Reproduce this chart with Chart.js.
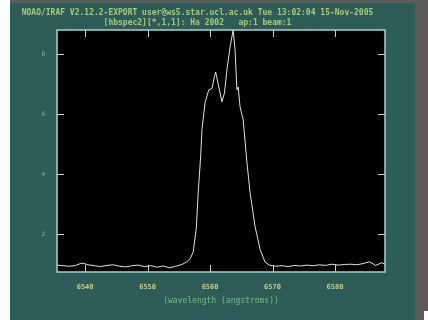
<!DOCTYPE html>
<html>
<head>
<meta charset="utf-8">
<script src="https://cdn.jsdelivr.net/npm/chart.js@4/dist/chart.umd.min.js"></script>
<style>
  html, body { margin: 0; padding: 0; background: #2e5d59; }
  #plot { display: block; }
</style>
</head>
<body>
<canvas id="plot" width="428" height="320"></canvas>
<script>
const titleLines = [
  'NOAO/IRAF V2.12.2-EXPORT user@ws5.star.ucl.ac.uk Tue 13:02:04 15-Nov-2005',
  '[hbspec2][*,1,1]: Ha 2002   ap:1 beam:1',
];
const xAxisTitle = '(wavelength (angstroms))';

const wavelength = [
  6535.5, 6536.5, 6537.5, 6538.5, 6539.5, 6540.5, 6541.5, 6542.5, 6543.5, 6544.5,
  6545.5, 6546.5, 6547.5, 6548.5, 6549.5, 6550.5, 6551.5, 6552.5, 6553.5, 6554.5,
  6555.5, 6556.3, 6556.8, 6557.3, 6557.8, 6558.1, 6558.5, 6558.7, 6559.2, 6559.8,
  6560.3, 6560.7, 6560.9, 6561.2, 6561.9, 6562.3, 6562.7, 6563.2, 6563.7, 6564.0,
  6564.3, 6564.5, 6564.8, 6565.3, 6565.9, 6566.4, 6567.2, 6568.0, 6568.8, 6569.5,
  6570.5, 6571.5, 6572.5, 6573.5, 6574.5, 6575.5, 6576.5, 6577.5, 6578.5, 6579.5,
  6580.5, 6581.5, 6582.5, 6583.5, 6584.5, 6585.5, 6586.5, 6587.5, 6588.0,
];
const flux = [
  0.97, 0.95, 0.93, 0.96, 1.04, 0.98, 0.95, 0.92, 0.96, 0.98,
  0.93, 0.91, 0.95, 0.97, 0.92, 0.95, 0.90, 0.94, 0.88, 0.93,
  0.99, 1.08, 1.18, 1.40, 2.20, 3.39, 4.60, 5.48, 6.38, 6.81,
  6.85, 7.25, 7.40, 7.10, 6.41, 6.70, 7.47, 8.23, 8.80, 8.13,
  6.81, 6.90, 6.24, 5.81, 4.39, 3.39, 2.26, 1.50, 1.07, 0.97,
  0.93, 0.95, 0.92, 0.96, 0.94, 0.97, 0.95, 0.98, 0.96, 1.00,
  0.97, 0.99, 1.00, 0.98, 1.02, 1.08, 0.96, 1.05, 1.00,
];

const xTicks = [6540, 6550, 6560, 6570, 6580];
const yTicks = [2, 4, 6, 8];

const FRAME = '#9fd6cf';
const TICK = '#d0d0d0';

// backdrop strips + inward tick marks + frame
const decor = {
  id: 'decor',
  beforeDraw(chart) {
    const { ctx, width, height, chartArea: a } = chart;
    ctx.save();
    ctx.fillStyle = '#2e5d59';
    ctx.fillRect(0, 0, width, height);
    ctx.fillStyle = '#ffffff';
    ctx.fillRect(0, 0, 10, height);
    ctx.fillStyle = '#5e5a5a';
    ctx.fillRect(10, 0, width - 10, 3);
    ctx.fillRect(415, 0, width - 415, height);
    ctx.fillStyle = '#ffffff';
    ctx.fillRect(424, 311, 4, 9);
    ctx.fillStyle = '#000000';
    ctx.fillRect(a.left, a.top, a.right - a.left, a.bottom - a.top);
    ctx.restore();
  },
  afterDatasetsDraw(chart) {
    const { ctx, chartArea: a, scales } = chart;
    ctx.save();
    ctx.strokeStyle = TICK;
    ctx.lineWidth = 1;
    ctx.beginPath();
    scales.x.ticks.forEach((t) => {
      const px = Math.round(scales.x.getPixelForValue(t.value)) + 0.5;
      ctx.moveTo(px, a.bottom); ctx.lineTo(px, a.bottom - 7);
      ctx.moveTo(px, a.top); ctx.lineTo(px, a.top + 7);
    });
    scales.y.ticks.forEach((t) => {
      const py = Math.round(scales.y.getPixelForValue(t.value)) + 0.5;
      ctx.moveTo(a.left, py); ctx.lineTo(a.left + 7, py);
      ctx.moveTo(a.right, py); ctx.lineTo(a.right - 7, py);
    });
    ctx.stroke();
    ctx.strokeStyle = FRAME;
    ctx.lineWidth = 1.5;
    ctx.strokeRect(a.left, a.top, a.right - a.left, a.bottom - a.top);
    ctx.restore();
  },
};

const ctx = document.getElementById('plot');
new Chart(ctx, {
  type: 'line',
  data: {
    datasets: [{
      data: wavelength.map((w, i) => ({ x: w, y: flux[i] })),
      borderColor: '#e2e2e2',
      borderWidth: 1,
      pointRadius: 0,
      tension: 0,
      fill: false,
    }],
  },
  options: {
    responsive: false,
    animation: false,
    layout: { padding: { left: 10, right: 43, top: 0, bottom: 0 } },
    plugins: {
      legend: { display: false },
      tooltip: { enabled: false },
      title: {
        display: true,
        text: titleLines,
        color: '#a8cc6c',
        font: { family: 'DejaVu Sans Mono', size: 8, lineHeight: 1.25 },
        padding: { top: 8, bottom: 2 },
      },
    },
    scales: {
      x: {
        type: 'linear',
        min: 6535.5,
        max: 6588,
        afterBuildTicks: (scale) => { scale.ticks = xTicks.map((v) => ({ value: v })); },
        afterFit: (scale) => { scale.height = 48; },
        grid: { display: false },
        border: { display: false },
        ticks: {
          color: '#cfcb7c',
          font: { family: 'DejaVu Sans Mono', size: 7, weight: 'bold' },
          padding: 3,
          maxRotation: 0,
          callback: (v) => String(v),
        },
        title: {
          display: true,
          text: xAxisTitle,
          color: '#6cc07a',
          font: { family: 'DejaVu Sans Mono', size: 8 },
          padding: { top: 4, bottom: 14 },
        },
      },
      y: {
        type: 'linear',
        min: 0.74,
        max: 8.8,
        afterBuildTicks: (scale) => { scale.ticks = yTicks.map((v) => ({ value: v })); },
        afterFit: (scale) => { scale.width = 47; },
        grid: { display: false },
        border: { display: false },
        ticks: {
          color: '#9aaaa6',
          font: { family: 'DejaVu Sans Mono', size: 6 },
          padding: 4,
        },
      },
    },
  },
  plugins: [decor],
});
</script>
</body>
</html>
